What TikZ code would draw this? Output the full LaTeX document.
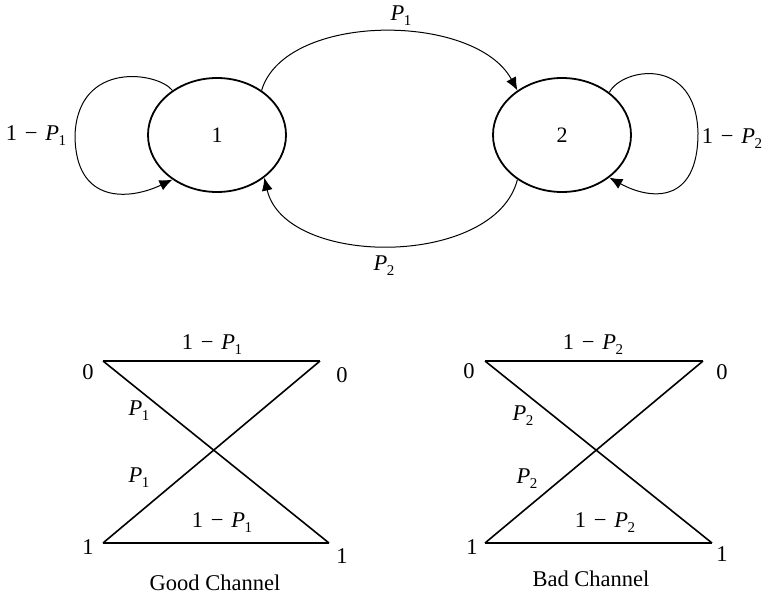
\documentclass[tikz,border=0pt]{standalone}
\usepackage{fontspec}
\setmainfont{Liberation Serif}
\usetikzlibrary{shapes.geometric,arrows.meta}
\newcommand\myP[1]{\textit{P}\kern-0.5pt\raisebox{-0.22em}{\fontsize{15}{18}\selectfont #1}}
\newcommand\myQ[1]{1\hspace{0.35em}−\hspace{0.35em}\myP{#1}}
\begin{document}
\begin{tikzpicture}[x=1pt,y=-1pt,
  txt/.style={inner sep=0pt,font=\fontsize{22.5}{26}\selectfont},
  state/.style={ellipse,draw,line width=1.8pt,minimum width=138pt,minimum height=114pt,inner sep=0pt,font=\fontsize{22}{26}\selectfont},
  arr/.style={line width=1pt,-{Latex[length=13pt,width=11pt]}},
  chan/.style={line width=1.6pt}]
\useasboundingbox (0,0) rectangle (765,596);
% states
\node[state] (n1) at (217,135) {1};
\node[state] (n2) at (562,135) {2};
% self loops
\draw[arr] (n1.135) .. controls (158,72) and (78,60) .. (75,135) .. controls (75,205) and (130,200) .. (n1.225);
\draw[arr] (n2.42) .. controls (622,68) and (696,55) .. (698,133) .. controls (698,205) and (650,200) .. (n2.318);
% transitions
\draw[arr] (n1.45) .. controls (285,12) and (475,12) .. (n2.135);
\draw[arr] (n2.225) .. controls (495,268) and (285,268) .. (n1.318);
% labels
\node[txt] (l1) at (36,136) {\myQ{1}};
\node[txt] (l2) at (732,139) {\myQ{2}};
\node[txt] (l3) at (401,16) {\myP{1}};
\node[txt] (l4) at (384,266) {\myP{2}};
% good channel
\coordinate (g0a) at (103,361);
\coordinate (g0b) at (320,361);
\coordinate (g1a) at (103,543);
\coordinate (g1b) at (329,543);
\draw[chan] (g0a) -- (g0b);
\draw[chan] (g1a) -- (g1b);
\draw[chan] (g0a) -- (g1b);
\draw[chan] (g1a) -- (g0b);
\node[txt] (gt0a) at (88,372) {0};
\node[txt] (gt0b) at (342,375) {0};
\node[txt] (gt1a) at (88,547) {1};
\node[txt] (gt1b) at (342,556) {1};
\node[txt] (gl1) at (212,345) {\myQ{1}};
\node[txt] (gl2) at (139,411) {\myP{1}};
\node[txt] (gl3) at (139,478) {\myP{1}};
\node[txt] (gl4) at (222,523) {\myQ{1}};
\node[txt] (gcap) at (215,583) {Good Channel};
% bad channel
\coordinate (b0a) at (485,361);
\coordinate (b0b) at (703,361);
\coordinate (b1a) at (485,543);
\coordinate (b1b) at (712,543);
\draw[chan] (b0a) -- (b0b);
\draw[chan] (b1a) -- (b1b);
\draw[chan] (b0a) -- (b1b);
\draw[chan] (b1a) -- (b0b);
\node[txt] (bt0a) at (469,371) {0};
\node[txt] (bt0b) at (722,372) {0};
\node[txt] (bt1a) at (472,547) {1};
\node[txt] (bt1b) at (722,554) {1};
\node[txt] (bl1) at (593,345) {\myQ{2}};
\node[txt] (bl2) at (523,416) {\myP{2}};
\node[txt] (bl3) at (527,479) {\myP{2}};
\node[txt] (bl4) at (605,523) {\myQ{2}};
\node[txt] (bcap) at (591,579) {Bad Channel};
\end{tikzpicture}
\end{document}
